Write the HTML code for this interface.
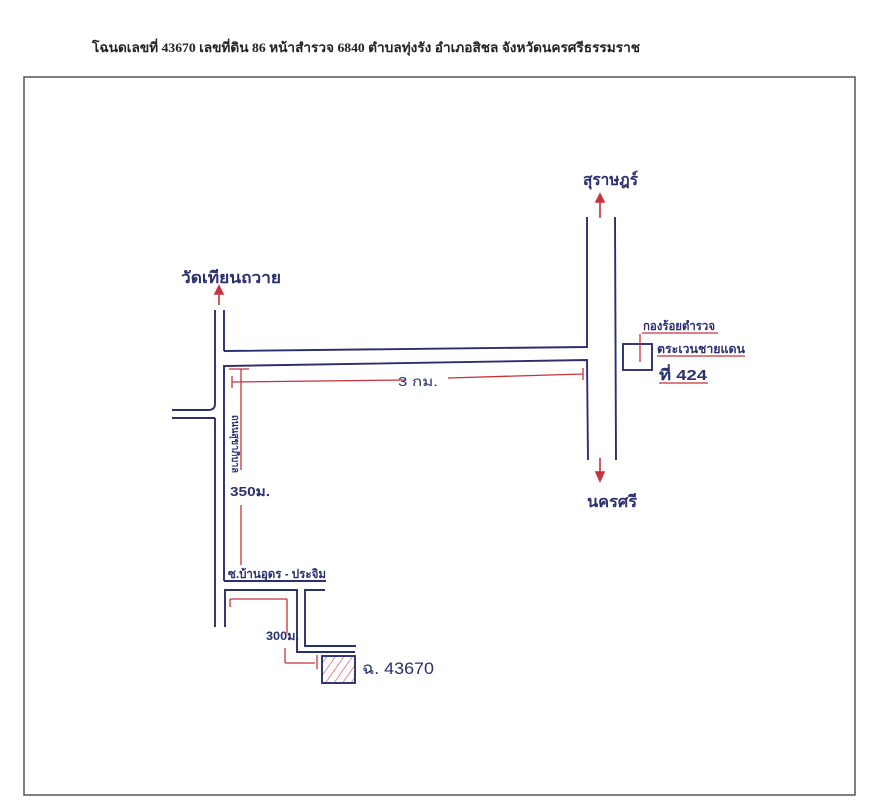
<!DOCTYPE html>
<html><head><meta charset="utf-8"><style>
html,body{margin:0;padding:0;background:#fff;width:870px;height:800px;overflow:hidden}
svg{display:block}
</style></head><body>
<svg width="870" height="800" viewBox="0 0 870 800" xmlns="http://www.w3.org/2000/svg">
<defs>
<pattern id="h" width="7" height="7" patternUnits="userSpaceOnUse" patternTransform="rotate(35)">
<line x1="0" y1="0" x2="0" y2="7" stroke="#d04050" stroke-width="1.2"/>
</pattern>
</defs>
<text x="92" y="52" font-family="Liberation Serif, serif" font-weight="bold" font-size="13" textLength="548" lengthAdjust="spacingAndGlyphs" fill="#222">โฉนดเลขที่ 43670  เลขที่ดิน 86 หน้าสำรวจ 6840 ตำบลทุ่งรัง อำเภอสิชล  จังหวัดนครศรีธรรมราช</text>
<rect x="24" y="77" width="831" height="718" fill="none" stroke="#555" stroke-width="1.5"/>
<g stroke="#2a2f6e" stroke-width="1.9" fill="none">
<line x1="215" y1="310" x2="215" y2="404"/>
<path d="M172 410 L208 410 Q215 410 215 404"/>
<line x1="172" y1="418" x2="215" y2="418"/>
<line x1="215" y1="418" x2="215" y2="627"/>
<line x1="224" y1="310" x2="224" y2="351"/>
<path d="M224 351 L587 347 L587 217"/>
<path d="M224 581 L224 366 L587 360 L588 460"/>
<line x1="615" y1="217" x2="616" y2="460"/>
<line x1="224" y1="581" x2="326" y2="581"/>
<path d="M225 627 L225 590 L297 590 L297 652 L355 652"/>
<path d="M325 590 L305 590 L305 646 L356 646"/>
<rect x="623" y="344" width="29" height="26"/>
</g>
<g stroke="#c8323c" stroke-width="1.3" fill="none">
<line x1="232" y1="382" x2="405" y2="380"/>
<line x1="448" y1="378" x2="583" y2="374"/>
<line x1="232" y1="376" x2="232" y2="388"/>
<line x1="583" y1="368" x2="583" y2="380"/>
<line x1="229" y1="369" x2="249" y2="369"/>
<line x1="241" y1="369" x2="241" y2="470"/>
<line x1="241" y1="505" x2="241" y2="565"/>
<line x1="230" y1="599" x2="230" y2="607"/>
<line x1="230" y1="599" x2="287" y2="599"/>
<line x1="287" y1="599" x2="287" y2="633"/>
<line x1="285" y1="648" x2="285" y2="663"/>
<line x1="285" y1="663" x2="315" y2="663"/>
<line x1="317" y1="655" x2="317" y2="669"/>
<line x1="640" y1="334" x2="640" y2="362"/>
<line x1="642" y1="333" x2="718" y2="333"/>
<line x1="657" y1="356" x2="745" y2="356"/>
<line x1="659" y1="383" x2="708" y2="383"/>
</g>
<rect x="322" y="656" width="33" height="27" fill="url(#h)" stroke="#2a2f6e" stroke-width="1.9"/>
<g stroke="#c8323c" stroke-width="1.6" fill="#c8323c">
<line x1="219" y1="305" x2="219" y2="292"/><path d="M215 294 L219 286 L223 294 Z"/>
<line x1="600" y1="218" x2="600" y2="200"/><path d="M596 202 L600 194 L604 202 Z"/>
<line x1="600" y1="458" x2="600" y2="474"/><path d="M596 472 L600 481 L604 472 Z"/>
</g>
<g font-family="Liberation Sans, sans-serif" fill="#2a2f6e" font-weight="bold">
<text x="181" y="283" font-size="16" textLength="100" lengthAdjust="spacingAndGlyphs">วัดเทียนถวาย</text>
<text x="583" y="185" font-size="16" textLength="55" lengthAdjust="spacingAndGlyphs">สุราษฎร์</text>
<text x="587" y="507" font-size="16" textLength="50" lengthAdjust="spacingAndGlyphs">นครศรี</text>
<text x="398" y="386" font-size="13" textLength="40" lengthAdjust="spacingAndGlyphs" font-weight="normal">3 กม.</text>
<text x="643" y="330" font-size="12" textLength="72" lengthAdjust="spacingAndGlyphs">กองร้อยตำรวจ</text>
<text x="657" y="353" font-size="12" textLength="88" lengthAdjust="spacingAndGlyphs">ตระเวนชายแดน</text>
<text x="659" y="380" font-size="15" textLength="48" lengthAdjust="spacingAndGlyphs">ที่ 424</text>
<text x="230" y="496" font-size="13" textLength="40" lengthAdjust="spacingAndGlyphs">350ม.</text>
<text x="228" y="578" font-size="12" textLength="98" lengthAdjust="spacingAndGlyphs">ซ.บ้านอุดร - ประจิม</text>
<text x="266" y="640" font-size="12" textLength="33" lengthAdjust="spacingAndGlyphs">300ม.</text>
<text x="362" y="674" font-size="17" textLength="72" lengthAdjust="spacingAndGlyphs" font-weight="normal">ฉ. 43670</text>
<text transform="translate(232,415) rotate(90)" font-size="10" textLength="58" lengthAdjust="spacingAndGlyphs">ถนนสุขาภิบาล</text>
</g>
</svg>
</body></html>
